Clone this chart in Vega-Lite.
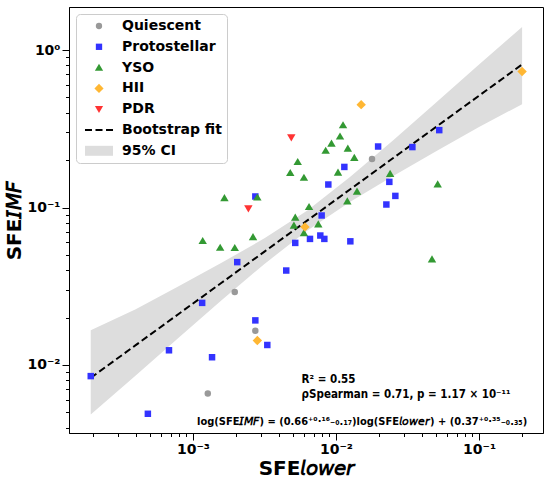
{
  "$schema": "https://vega.github.io/schema/vega-lite/v6.json",
  "width": 474,
  "height": 426,
  "autosize": {"type": "none"},
  "padding": {"left": 69, "top": 7, "right": 7, "bottom": 49},
  "background": "white",
  "config": {
    "font": "DejaVu Sans",
    "view": {"stroke": "#000000", "strokeWidth": 1},
    "axis": {
      "grid": false,
      "domainColor": "#000000",
      "tickColor": "#000000",
      "labelColor": "#000000",
      "titleColor": "#000000",
      "labelFontSize": 14,
      "labelFontWeight": "bold",
      "titleFontSize": 20,
      "titleFontWeight": "bold",
      "labelOverlap": false,
      "labelFlush": false,
      "labelPadding": 2
    }
  },
  "datasets": {
    "points": [
      {"category": "Quiescent", "x": 0.00127, "y": 0.0066},
      {"category": "Quiescent", "x": 0.00196, "y": 0.0291},
      {"category": "Quiescent", "x": 0.00273, "y": 0.0165},
      {"category": "Quiescent", "x": 0.01786, "y": 0.203},
      {"category": "Protostellar", "x": 0.000193, "y": 0.0085},
      {"category": "Protostellar", "x": 0.000484, "y": 0.0049},
      {"category": "Protostellar", "x": 0.00068, "y": 0.0124},
      {"category": "Protostellar", "x": 0.00136, "y": 0.0112},
      {"category": "Protostellar", "x": 0.00116, "y": 0.0248},
      {"category": "Protostellar", "x": 0.00204, "y": 0.045},
      {"category": "Protostellar", "x": 0.00273, "y": 0.0192},
      {"category": "Protostellar", "x": 0.00331, "y": 0.0134},
      {"category": "Protostellar", "x": 0.00449, "y": 0.0398},
      {"category": "Protostellar", "x": 0.00519, "y": 0.0596},
      {"category": "Protostellar", "x": 0.00273, "y": 0.1175},
      {"category": "Protostellar", "x": 0.0197, "y": 0.244},
      {"category": "Protostellar", "x": 0.0342, "y": 0.242},
      {"category": "Protostellar", "x": 0.0527, "y": 0.31},
      {"category": "Protostellar", "x": 0.01144, "y": 0.181},
      {"category": "Protostellar", "x": 0.00884, "y": 0.14},
      {"category": "Protostellar", "x": 0.0236, "y": 0.1455},
      {"category": "Protostellar", "x": 0.026, "y": 0.1185},
      {"category": "Protostellar", "x": 0.0225, "y": 0.1045},
      {"category": "Protostellar", "x": 0.00794, "y": 0.089},
      {"category": "Protostellar", "x": 0.00777, "y": 0.0664},
      {"category": "Protostellar", "x": 0.00829, "y": 0.0632},
      {"category": "Protostellar", "x": 0.00658, "y": 0.0632},
      {"category": "Protostellar", "x": 0.0126, "y": 0.061},
      {"category": "YSO", "x": 0.00117, "y": 0.0614},
      {"category": "YSO", "x": 0.00155, "y": 0.0557},
      {"category": "YSO", "x": 0.00196, "y": 0.0555},
      {"category": "YSO", "x": 0.00263, "y": 0.065},
      {"category": "YSO", "x": 0.00166, "y": 0.115},
      {"category": "YSO", "x": 0.00282, "y": 0.116},
      {"category": "YSO", "x": 0.00479, "y": 0.166},
      {"category": "YSO", "x": 0.0054, "y": 0.195},
      {"category": "YSO", "x": 0.00519, "y": 0.0865},
      {"category": "YSO", "x": 0.00508, "y": 0.0769},
      {"category": "YSO", "x": 0.0112, "y": 0.334},
      {"category": "YSO", "x": 0.01067, "y": 0.283},
      {"category": "YSO", "x": 0.0093, "y": 0.255},
      {"category": "YSO", "x": 0.00847, "y": 0.23},
      {"category": "YSO", "x": 0.0121, "y": 0.237},
      {"category": "YSO", "x": 0.01343, "y": 0.207},
      {"category": "YSO", "x": 0.00597, "y": 0.155},
      {"category": "YSO", "x": 0.01033, "y": 0.167},
      {"category": "YSO", "x": 0.0239, "y": 0.164},
      {"category": "YSO", "x": 0.0514, "y": 0.1406},
      {"category": "YSO", "x": 0.01403, "y": 0.1265},
      {"category": "YSO", "x": 0.012, "y": 0.1096},
      {"category": "YSO", "x": 0.00648, "y": 0.101},
      {"category": "YSO", "x": 0.00752, "y": 0.0783},
      {"category": "YSO", "x": 0.00597, "y": 0.069},
      {"category": "YSO", "x": 0.0469, "y": 0.047},
      {"category": "HII", "x": 0.2, "y": 0.73},
      {"category": "HII", "x": 0.015, "y": 0.45},
      {"category": "HII", "x": 0.00607, "y": 0.0753},
      {"category": "HII", "x": 0.00282, "y": 0.0143},
      {"category": "PDR", "x": 0.00487, "y": 0.278},
      {"category": "PDR", "x": 0.00244, "y": 0.0985}
    ],
    "fit": [
      {"x": 0.000193, "fit": 0.00829, "lo": 0.00485, "hi": 0.0166},
      {"x": 0.000398, "fit": 0.01337, "lo": 0.00857, "hi": 0.02262},
      {"x": 0.000794, "fit": 0.02109, "lo": 0.01489, "hi": 0.03165},
      {"x": 0.001585, "fit": 0.03327, "lo": 0.02575, "hi": 0.04453},
      {"x": 0.003162, "fit": 0.05248, "lo": 0.04384, "hi": 0.0637},
      {"x": 0.00631, "fit": 0.08279, "lo": 0.0715, "hi": 0.0958},
      {"x": 0.01259, "fit": 0.1306, "lo": 0.1089, "hi": 0.1566},
      {"x": 0.02512, "fit": 0.2061, "lo": 0.1588, "hi": 0.2675},
      {"x": 0.05012, "fit": 0.3251, "lo": 0.2278, "hi": 0.4638},
      {"x": 0.1, "fit": 0.5129, "lo": 0.3249, "hi": 0.8093},
      {"x": 0.2, "fit": 0.8102, "lo": 0.453, "hi": 1.4}
    ],
    "notesLeft": [
      {"x": 0.00575, "y": 0.008, "label": "R² = 0.55"},
      {"x": 0.00575, "y": 0.00643, "label": "ρSpearman = 0.71, p = 1.17 × 10⁻¹¹"}
    ],
    "notesRight": [
      {"x": 0.217, "y": 0.00436, "label": "log(SFE𝘐𝘔𝘍) = (0.66⁺⁰·¹⁶₋₀.₁₇)log(SFE𝘭𝘰𝘸𝘦𝘳) + (0.37⁺⁰·³⁵₋₀.₃₅)"}
    ]
  },
  "layer": [
    {
      "data": {"name": "fit"},
      "mark": {"type": "area", "color": "#dddddd", "opacity": 1},
      "encoding": {
        "x": {
          "field": "x", "type": "quantitative", "title": "SFE𝘭𝘰𝘸𝘦𝘳",
          "scale": {"type": "log", "domain": [0.000136, 0.28], "nice": false, "zero": false},
          "axis": {
            "values": [0.0002, 0.0003, 0.0004, 0.0005, 0.0006, 0.0007, 0.0008, 0.0009, 0.001, 0.002, 0.003, 0.004, 0.005, 0.006, 0.007, 0.008, 0.009, 0.01, 0.02, 0.03, 0.04, 0.05, 0.06, 0.07, 0.08, 0.09, 0.1, 0.2],
            "labelExpr": "datum.value == 0.001 ? '10⁻³' : datum.value == 0.01 ? '10⁻²' : datum.value == 0.1 ? '10⁻¹' : ''",
            "tickSize": {"condition": {"test": "datum.value == 0.001 || datum.value == 0.01 || datum.value == 0.1", "value": 7}, "value": 3.5},
            "titlePadding": 2
          }
        },
        "y": {
          "field": "lo", "type": "quantitative", "title": "SFE𝘐𝘔𝘍",
          "scale": {"type": "log", "domain": [0.0037, 1.876], "nice": false, "zero": false},
          "axis": {
            "values": [0.004, 0.005, 0.006, 0.007, 0.008, 0.009, 0.01, 0.02, 0.03, 0.04, 0.05, 0.06, 0.07, 0.08, 0.09, 0.1, 0.2, 0.3, 0.4, 0.5, 0.6, 0.7, 0.8, 0.9, 1],
            "labelExpr": "datum.value == 0.01 ? '10⁻²' : datum.value == 0.1 ? '10⁻¹' : datum.value == 1 ? '10⁰' : ''",
            "tickSize": {"condition": {"test": "datum.value == 0.01 || datum.value == 0.1 || datum.value == 1", "value": 7}, "value": 3.5},
            "titlePadding": 2
          }
        },
        "y2": {"field": "hi"}
      }
    },
    {
      "data": {"name": "fit"},
      "mark": {"type": "line", "color": "#000000", "strokeDash": [7, 3.5], "strokeWidth": 2},
      "encoding": {
        "x": {"field": "x", "type": "quantitative", "title": "SFE𝘭𝘰𝘸𝘦𝘳"},
        "y": {"field": "fit", "type": "quantitative", "title": "SFE𝘐𝘔𝘍"}
      }
    },
    {
      "data": {"name": "points"},
      "mark": {"type": "point", "filled": true, "size": 42, "opacity": 1, "strokeWidth": 0},
      "encoding": {
        "x": {"field": "x", "type": "quantitative", "title": "SFE𝘭𝘰𝘸𝘦𝘳"},
        "y": {"field": "y", "type": "quantitative", "title": "SFE𝘐𝘔𝘍"},
        "color": {
          "field": "category", "type": "nominal",
          "scale": {
            "domain": ["Quiescent", "Protostellar", "YSO", "HII", "PDR", "Bootstrap fit", "95% CI"],
            "range": ["#999999", "#3333ff", "#339933", "#ffb733", "#ff3333", "#000000", "#dddddd"]
          },
          "legend": {
            "title": null,
            "orient": "top-left",
            "offset": 7,
            "padding": 5,
            "fillColor": "white",
            "strokeColor": "#cccccc",
            "cornerRadius": 4,
            "labelFontSize": 14,
            "labelFontWeight": "bold",
            "labelColor": "#000000",
            "symbolSize": 40,
            "symbolStrokeWidth": 0,
            "symbolOpacity": 1,
            "symbolOffset": 11,
            "labelOffset": 16,
            "rowPadding": 6.8
          }
        },
        "shape": {
          "field": "category", "type": "nominal",
          "scale": {
            "domain": ["Quiescent", "Protostellar", "YSO", "HII", "PDR", "Bootstrap fit", "95% CI"],
            "range": ["circle", "square", "M0,-1.2L1.3,1L-1.3,1Z", "M0,-1.45L1.45,0L0,1.45L-1.45,0Z", "M0,1.2L1.3,-1L-1.3,-1Z", "M-4.43,-0.32H-2.22V0.32H-4.43ZM-1.11,-0.32H1.11V0.32H-1.11ZM2.22,-0.32H4.43V0.32H2.22Z", "M-4.43,-1.58H4.43V1.58H-4.43Z"]
          }
        }
      }
    },
    {
      "data": {"name": "notesLeft"},
      "mark": {"type": "text", "align": "left", "baseline": "middle", "fontSize": 11.5, "fontWeight": "bold", "font": "DejaVu Sans Condensed", "color": "#000000"},
      "encoding": {
        "x": {"field": "x", "type": "quantitative"},
        "y": {"field": "y", "type": "quantitative"},
        "text": {"field": "label", "type": "nominal"}
      }
    },
    {
      "data": {"name": "notesRight"},
      "mark": {"type": "text", "align": "right", "baseline": "middle", "fontSize": 11, "fontWeight": "bold", "font": "DejaVu Sans Condensed", "color": "#000000"},
      "encoding": {
        "x": {"field": "x", "type": "quantitative"},
        "y": {"field": "y", "type": "quantitative"},
        "text": {"field": "label", "type": "nominal"}
      }
    }
  ]
}
